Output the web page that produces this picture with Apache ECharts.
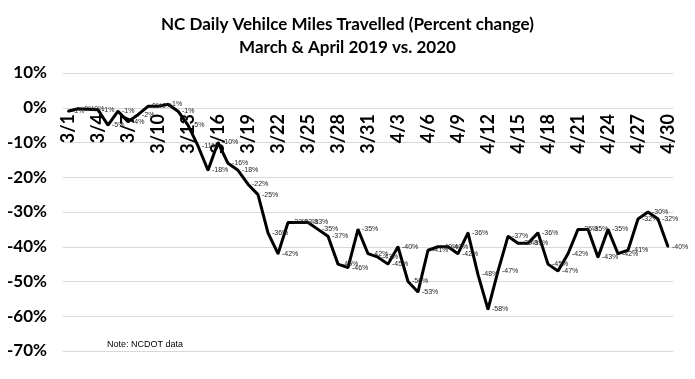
<!DOCTYPE html>
<html>
<head>
<meta charset="utf-8">
<script src="https://cdn.jsdelivr.net/npm/echarts@6/dist/echarts.min.js"></script>
<style>html,body{margin:0;padding:0;background:#fff}#c{width:695px;height:379px}</style>
</head>
<body>
<div id="c"></div>
<script>
const categories = ['3/1','3/2','3/3','3/4','3/5','3/6','3/7','3/8','3/9','3/10','3/11','3/12','3/13','3/14','3/15','3/16','3/17','3/18','3/19','3/20','3/21','3/22','3/23','3/24','3/25','3/26','3/27','3/28','3/29','3/30','3/31',
  '4/1','4/2','4/3','4/4','4/5','4/6','4/7','4/8','4/9','4/10','4/11','4/12','4/13','4/14','4/15','4/16','4/17','4/18','4/19','4/20','4/21','4/22','4/23','4/24','4/25','4/26','4/27','4/28','4/29','4/30'];
const pctChange = [-1, -0.3, -0.4, -0.6, -5, -1, -4, -2, 0.4, 0.4, 1, -1, -5, -11, -18, -10, -16, -18, -22, -25, -36, -42, -33, -33, -33, -35, -37, -45, -46, -35,
  -42, -43, -45, -40, -50, -53, -41, -40, -40, -42, -36, -48, -58, -47, -37, -39, -39, -36, -45, -47, -42, -35, -35, -43, -35, -42, -41, -32, -30, -32, -40];
const yTicks = [-70, -60, -50, -40, -30, -20, -10, 0, 10];
const titleLines = ['NC Daily Vehilce Miles Travelled (Percent change)', 'March & April 2019 vs. 2020'];
const noteText = 'Note: NCDOT data';

const chart = echarts.init(document.getElementById('c'), null, {renderer: 'canvas'});
function fmtPct(v) {
  const r = Math.round(v);
  return (v < 0 ? '-' : '') + Math.abs(r) + '%';
}
// grid geometry
const gridTop = 73, gridBottom = 28, chartH = 379 - gridTop - gridBottom;
const yMin = yTicks[0], yMax = yTicks[yTicks.length - 1];
const zeroOffset = -Math.round(chartH * (0 - yMin) / (yMax - yMin));
chart.setOption({
  animation: false,
  title: {
    text: titleLines.join('\n'),
    left: 'center',
    top: 8,
    textStyle: {fontFamily: 'Lato', fontWeight: 'bold', fontSize: 17, color: '#000', lineHeight: 23}
  },
  grid: {left: 63, right: 22, top: gridTop, bottom: gridBottom, containLabel: false},
  xAxis: {
    type: 'category',
    data: categories,
    boundaryGap: true,
    position: 'bottom',
    offset: zeroOffset,
    axisLine: {show: true, onZero: false, lineStyle: {color: '#d9d9d9', width: 1}},
    axisTick: {show: false},
    axisLabel: {interval: 2, rotate: 90, margin: 6, fontFamily: 'Lato', fontWeight: 'bold', fontSize: 18, color: '#000'},
    splitLine: {show: false}
  },
  yAxis: {
    type: 'value',
    min: yMin, max: yMax, interval: 10,
    axisLine: {show: false},
    axisTick: {show: false},
    axisLabel: {margin: 16, formatter: v => v + '%', fontFamily: 'Lato', fontWeight: 'bold', fontSize: 17, color: '#000'},
    splitLine: {lineStyle: {color: '#d9d9d9', width: 1}}
  },
  graphic: [{
    type: 'text', left: 107, top: 340,
    style: {text: noteText, font: '9px "Liberation Sans"', fill: '#000'}
  }],
  series: [{
    type: 'line',
    data: pctChange,
    showSymbol: true,
    showAllSymbol: true,
    symbol: 'circle',
    symbolSize: 2,
    itemStyle: {color: '#000'},
    lineStyle: {color: '#000', width: 3},
    z: 3,
    label: {show: true, position: 'right', distance: 3, formatter: p => fmtPct(p.value),
      fontFamily: 'Liberation Sans', fontSize: 7, color: '#222'},
    labelLayout: {hideOverlap: false}
  }]
});
</script>
</body>
</html>
